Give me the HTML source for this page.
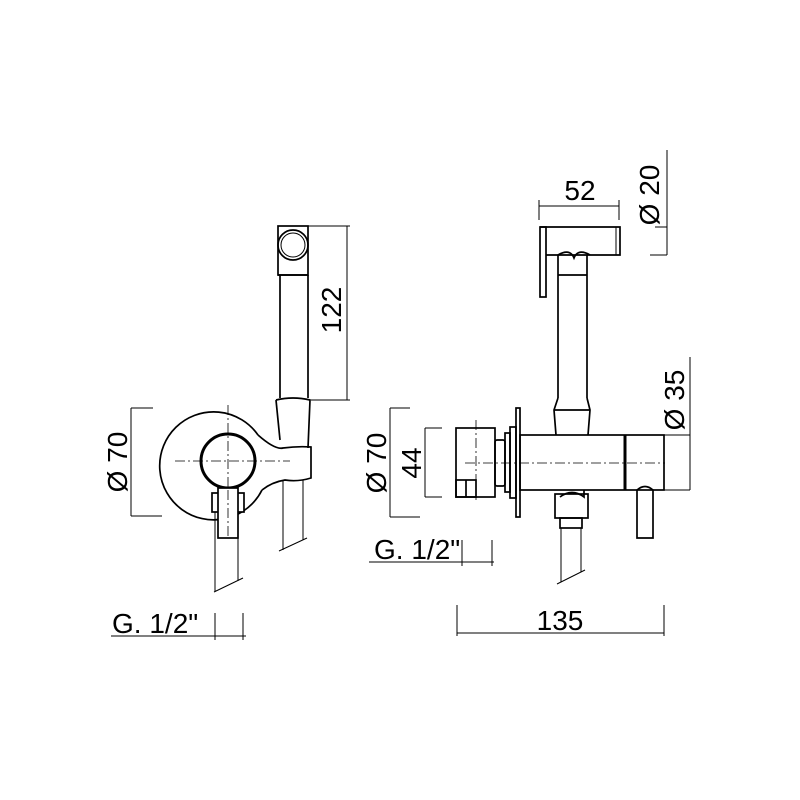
<!DOCTYPE html>
<html><head><style>body{margin:0;background:#fff}svg{display:block}</style></head><body>
<svg width="800" height="800" viewBox="0 0 800 800" xmlns="http://www.w3.org/2000/svg" font-family="Liberation Sans, sans-serif" font-size="28" fill="none" stroke="#000" stroke-width="1.7">
<!-- LEFT VIEW -->
<rect x="278" y="226" width="30" height="49"/>
<circle cx="293" cy="245" r="15"/>
<circle cx="293" cy="245" r="12" stroke-width="1"/>
<line x1="280" y1="275" x2="280" y2="398"/>
<line x1="308" y1="275" x2="308" y2="398"/>
<line x1="278" y1="275" x2="308" y2="275"/>
<path d="M276 400 Q293 396 310 400 L308 448"/>
<path d="M276 400 L280 440"/>
<path d="M258 435 Q275 450 283 448 Q298 446 311 447 L311 478 Q298 482 285 480 Q272 482 262 490"/>
<path d="M262 490 A54 54 0 1 1 258 435"/>
<circle cx="228" cy="461" r="27" stroke-width="3"/>
<g stroke-width="0.8" stroke-dasharray="10,3,2,3"><line x1="175" y1="461" x2="290" y2="461"/><line x1="228" y1="405" x2="228" y2="535"/></g>
<rect x="212" y="493" width="32" height="19" fill="#fff"/>
<rect x="218" y="488" width="20" height="50" fill="#fff"/>
<line x1="228" y1="490" x2="228" y2="536" stroke-width="0.8" stroke-dasharray="10,3,2,3"/>
<line x1="215" y1="512" x2="215" y2="591" stroke-width="1"/>
<line x1="238" y1="538" x2="238" y2="581" stroke-width="1"/>
<line x1="214" y1="592" x2="243" y2="578" stroke-width="1"/>
<line x1="283" y1="480" x2="283" y2="550" stroke-width="1"/>
<line x1="303" y1="480" x2="303" y2="540" stroke-width="1"/>
<line x1="279" y1="551" x2="307" y2="538" stroke-width="1"/>
<g stroke-width="1">
<line x1="131" y1="408" x2="131" y2="516"/><line x1="131" y1="408" x2="153" y2="408"/><line x1="131" y1="516" x2="162" y2="516"/>
<line x1="347" y1="226" x2="347" y2="400"/><line x1="308" y1="226" x2="350" y2="226"/><line x1="311" y1="400" x2="350" y2="400"/>
<line x1="111" y1="636" x2="246" y2="636"/><line x1="215" y1="613" x2="215" y2="640"/><line x1="243" y1="613" x2="243" y2="640"/>
</g>
<!-- RIGHT VIEW -->
<path d="M540 227 H620 V255 H546"/>
<rect x="540" y="227" width="6" height="70"/>
<line x1="616" y1="227" x2="616" y2="255" stroke-width="1"/>
<path d="M558 255 Q570 248 574 258 Q578 248 590 255"/>
<line x1="558" y1="255" x2="558" y2="398"/><line x1="587" y1="255" x2="587" y2="398"/>
<line x1="558" y1="275" x2="587" y2="275"/>
<path d="M558 398 L554 410 L556 435 M587 398 L590 410 L588 435 M554 410 H590"/>
<rect x="520" y="435" width="144" height="55"/>
<line x1="625" y1="435" x2="625" y2="490" stroke-width="3"/>
<rect x="516" y="408" width="4" height="109"/>
<rect x="510" y="427" width="6" height="71"/>
<rect x="505" y="433" width="5" height="59"/>
<rect x="495" y="440" width="10" height="46" rx="2"/>
<rect x="456" y="428" width="39" height="69"/>
<rect x="456" y="480" width="20" height="17"/>
<line x1="466" y1="480" x2="466" y2="497"/>
<line x1="465" y1="463" x2="665" y2="463" stroke-width="0.8" stroke-dasharray="10,3,2,3"/>
<line x1="476" y1="420" x2="476" y2="500" stroke-width="0.8" stroke-dasharray="10,3,2,3"/>
<path d="M560 497 Q572 488 584 497 V490"/>
<rect x="555" y="494" width="33" height="24"/>
<rect x="560" y="518" width="22" height="10"/>
<line x1="561" y1="528" x2="561" y2="582" stroke-width="1"/><line x1="581" y1="528" x2="581" y2="572" stroke-width="1"/>
<line x1="557" y1="584" x2="585" y2="570" stroke-width="1"/>
<path d="M637 490 V538 H653 V490 Q645 483 637 490"/>
<g stroke-width="1">
<line x1="539" y1="206" x2="619" y2="206"/><line x1="539" y1="200" x2="539" y2="220"/><line x1="619" y1="200" x2="619" y2="220"/>
<line x1="667" y1="150" x2="667" y2="255"/><line x1="655" y1="227" x2="667" y2="227"/><line x1="650" y1="255" x2="667" y2="255"/>
<line x1="690" y1="357" x2="690" y2="490"/><line x1="664" y1="435" x2="690" y2="435"/><line x1="664" y1="490" x2="690" y2="490"/>
<line x1="390" y1="408" x2="390" y2="517"/><line x1="390" y1="408" x2="410" y2="408"/><line x1="390" y1="517" x2="420" y2="517"/>
<line x1="425" y1="428" x2="425" y2="497"/><line x1="425" y1="428" x2="442" y2="428"/><line x1="425" y1="497" x2="442" y2="497"/>
<line x1="369" y1="562" x2="494" y2="562"/><line x1="462" y1="540" x2="462" y2="566"/><line x1="492" y1="540" x2="492" y2="566"/>
<line x1="457" y1="633" x2="664" y2="633"/><line x1="457" y1="605" x2="457" y2="636"/><line x1="664" y1="605" x2="664" y2="636"/>
</g>
<g fill="#000" stroke="none">
<text x="0" y="0" text-anchor="middle" transform="translate(127,462) rotate(-90)">Ø 70</text>
<text x="0" y="0" text-anchor="middle" transform="translate(341,310) rotate(-90)">122</text>
<text x="112" y="633">G. 1/2"</text>
<text x="580" y="200" text-anchor="middle">52</text>
<text x="0" y="0" text-anchor="middle" transform="translate(659,195) rotate(-90)">Ø 20</text>
<text x="0" y="0" text-anchor="middle" transform="translate(684,400) rotate(-90)">Ø 35</text>
<text x="0" y="0" text-anchor="middle" transform="translate(386,463) rotate(-90)">Ø 70</text>
<text x="0" y="0" text-anchor="middle" transform="translate(421,463) rotate(-90)">44</text>
<text x="374" y="559">G. 1/2"</text>
<text x="560" y="630" text-anchor="middle">135</text>
</g>
</svg>
</body></html>
